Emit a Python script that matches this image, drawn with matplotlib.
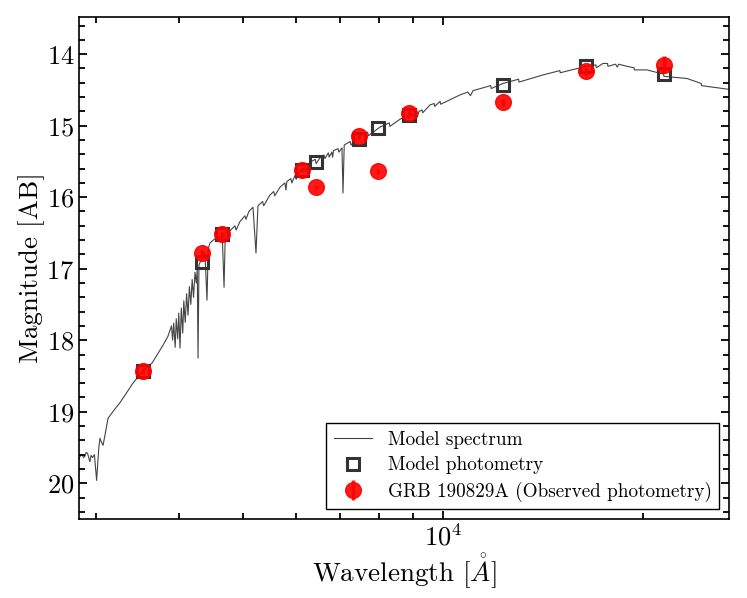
import matplotlib
matplotlib.use("Agg")
import matplotlib.pyplot as plt
import numpy as np
from matplotlib.ticker import MultipleLocator, NullFormatter, LogLocator

plt.rcParams['font.family'] = 'serif'
plt.rcParams['font.serif'] = ['cmr10', 'DejaVu Serif']
plt.rcParams['mathtext.fontset'] = 'cm'
plt.rcParams['axes.formatter.use_mathtext'] = True
plt.rcParams['axes.unicode_minus'] = False

# model spectrum (wavelength in Angstrom, AB mag)
spec_wave = [2830, 2845, 2860, 2875, 2889, 2900, 2915, 2930, 2939, 2950, 2965, 2985,
             3008, 3030, 3043, 3060, 3076, 3100, 3130, 3200, 3264, 3340,
             3412, 3532, 3645, 3787, 3850, 3880, 3900, 3915, 3930, 3950, 3965, 3985,
             4000, 4017, 4035, 4055, 4070, 4090, 4110, 4130, 4150, 4170, 4190, 4210,
             4231, 4250, 4265, 4276, 4290, 4306, 4340, 4380, 4411, 4430, 4457, 4535,
             4600, 4620, 4650, 4680, 4700, 4778, 4860, 4880, 4946, 5030, 5050, 5100,
             5174, 5228, 5264, 5350, 5370, 5487, 5560, 5580, 5682, 5780,
             5800, 5820, 5900, 5920, 5990, 6010, 6089, 6180, 6200, 6300, 6320, 6340,
             6420, 6440, 6528, 6620, 6640, 6720, 6740, 6800, 6820, 6840, 6950, 6970,
             7045, 7070, 7100, 7250, 7270, 7499, 7700, 7720, 8037, 8300, 8320, 8615,
             8700, 8720, 8850, 8870, 9000, 9020, 9100, 9150, 9200, 9300, 9320, 9560,
             9700, 9720, 9900, 9920, 10607, 10900, 11000, 11100, 11800, 11820,
             12312, 13000, 13020, 14147, 15000, 15020, 16422, 17000, 17020, 17418,
             17700, 17720, 18200, 18300, 18400, 18930, 19400, 19420, 20290, 21500,
             21520, 23310, 24500, 24520, 26870]
spec_mag = [19.66, 19.61, 19.60, 19.64, 19.62, 19.57, 19.58, 19.66, 19.70, 19.61, 19.64, 19.60,
            19.96, 19.52, 19.37, 19.43, 19.47, 19.30, 19.09, 18.97, 18.87, 18.73,
            18.60, 18.43, 18.32, 18.07, 17.95, 17.86, 17.80, 18.00, 17.76, 18.10, 17.70, 17.98,
            17.62, 18.11, 17.55, 17.90, 17.45, 17.75, 17.35, 17.65, 17.25, 17.50, 17.15, 17.40,
            17.05, 17.20, 17.00, 18.25, 16.95, 16.91, 16.85, 16.78, 17.44, 16.72, 16.64, 16.58,
            16.55, 16.62, 16.52, 17.26, 16.50, 16.47, 16.40, 16.46, 16.34, 16.26, 16.31, 16.20,
            16.14, 16.78, 16.12, 16.06, 16.12, 15.97, 15.92, 15.98, 15.86, 15.80,
            15.90, 15.78, 15.74, 15.80, 15.69, 15.75, 15.63, 15.58, 15.64, 15.52, 15.60, 15.50,
            15.47, 15.53, 15.45, 15.41, 15.46, 15.38, 15.44, 15.37, 15.44, 15.35, 15.32, 15.37,
            15.31, 15.94, 15.27, 15.22, 15.27, 15.14, 15.09, 15.14, 15.02, 14.96, 15.01, 14.91,
            14.89, 14.94, 14.86, 14.90, 14.83, 14.87, 14.81, 14.88, 14.80, 14.78, 14.82, 14.71,
            14.69, 14.73, 14.66, 14.70, 14.57, 14.53, 14.58, 14.51, 14.44, 14.48,
            14.41, 14.35, 14.39, 14.29, 14.23, 14.26, 14.17, 14.15, 14.19, 14.13,
            14.13, 14.17, 14.14, 14.18, 14.14, 14.17, 14.19, 14.22, 14.22, 14.28,
            14.31, 14.34, 14.41, 14.44, 14.49]

# photometry
band_wave = [3532, 4336, 4647, 6134, 6436, 7470, 7982, 8888, 12312, 16422, 21520]
model_mag = [18.43, 16.91, 16.52, 15.62, 15.51, 15.18, 15.03, 14.85, 14.43, 14.17, 14.28]
obs_mag = [18.43, 16.78, 16.52, 15.62, 15.86, 15.15, 15.64, 14.82, 14.67, 14.24, 14.15]
obs_err = [0.04, 0.04, 0.03, 0.03, 0.03, 0.03, 0.03, 0.03, 0.05, 0.05, 0.12]

fig = plt.figure(figsize=(7.47, 5.98), dpi=100)
ax = fig.add_axes([0.1058, 0.1321, 0.8701, 0.8395])

ax.plot(spec_wave, spec_mag, color='#444444', lw=0.8, label='Model spectrum', zorder=1)
ax.plot(band_wave, model_mag, 's', mfc='none', mec='#333333', mew=2.2, ms=8.5,
        label='Model photometry', zorder=2)
ax.errorbar(band_wave, obs_mag, yerr=obs_err, fmt='o', color='red', ms=11.3,
            elinewidth=2.5, capsize=0, alpha=0.9, zorder=3,
            label='GRB 190829A (Observed photometry)')

ax.set_xscale('log')
ax.set_xlim(2830, 26970)
ax.set_ylim(20.5, 13.48)
ax.xaxis.set_minor_locator(LogLocator(base=10, subs=np.arange(2, 10)))
ax.xaxis.set_minor_formatter(NullFormatter())
ax.yaxis.set_major_locator(MultipleLocator(1))
ax.yaxis.set_minor_locator(MultipleLocator(0.2))

ax.tick_params(which='both', direction='in', top=True, right=True, labelsize=19, width=1.3)
ax.tick_params(which='major', length=5.5)
ax.tick_params(which='minor', length=4.3)
for s in ax.spines.values():
    s.set_linewidth(1.2)

ax.set_xlabel(r'Wavelength [$\mathring{A}$]', fontsize=19.5, labelpad=0.5)
ax.set_ylabel('Magnitude [AB]', fontsize=19.5, labelpad=1)

leg = ax.legend(loc='lower right', fontsize=13.8, fancybox=False, framealpha=1,
                edgecolor='black', borderaxespad=0.5, labelspacing=0.38)
leg.get_frame().set_linewidth(1.0)

fig.savefig('out.png', dpi=100)
